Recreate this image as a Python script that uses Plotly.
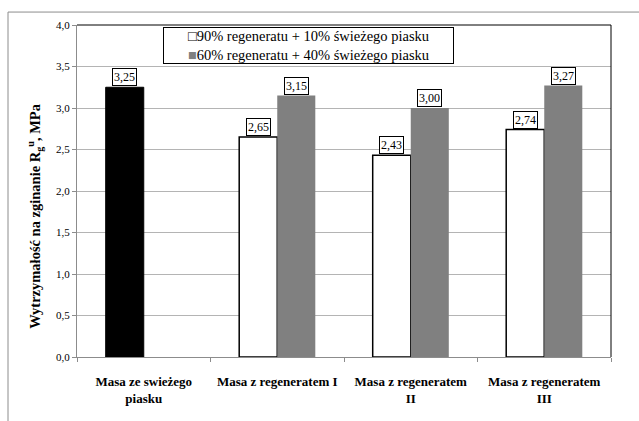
import plotly.graph_objects as go

# Categories (x-axis) and measured flexural strength values [MPa]
categories = [
    "Masa ze swieżego<br>piasku",
    "Masa z regeneratem I",
    "Masa z regeneratem<br>II",
    "Masa z regeneratem<br>III",
]
fresh_cat = [categories[0]]
fresh_vals = [3.25]

regen_cats = categories[1:]
series_90 = [2.65, 2.43, 2.74]   # 90% regenerate + 10% fresh sand
series_60 = [3.15, 3.00, 3.27]   # 60% regenerate + 40% fresh sand

name_90 = "90% regeneratu + 10% świeżego piasku"
name_60 = "60% regeneratu + 40% świeżego piasku"

y_ticks = [0, 0.5, 1.0, 1.5, 2.0, 2.5, 3.0, 3.5, 4.0]

SERIF = "Liberation Serif"
GRID = "#b4b4b4"
AXIS = "#8c8c8c"
GRAY_BAR = "#808080"

fig = go.Figure()

fig.add_trace(go.Bar(
    x=fresh_cat, y=fresh_vals, offsetgroup="a", showlegend=False,
    marker=dict(color="black", line=dict(color="black", width=1)),
))
fig.add_trace(go.Bar(
    x=regen_cats, y=series_90, name=name_90, offsetgroup="a", showlegend=False,
    marker=dict(color="white", line=dict(color="black", width=1.5)),
))
fig.add_trace(go.Bar(
    x=regen_cats, y=series_60, name=name_60, offsetgroup="b", showlegend=False,
    marker=dict(color=GRAY_BAR, line=dict(color=GRAY_BAR, width=0)),
))

# Boxed value labels above each bar
def value_label(x, v, shift):
    return dict(
        x=x, y=v, xref="x", yref="y", xshift=shift, yshift=1,
        text=f"{v:.2f}".replace(".", ","), showarrow=False,
        xanchor="center", yanchor="bottom",
        font=dict(family=SERIF, size=12, color="black"),
        bgcolor="white", bordercolor="black", borderwidth=1, borderpad=1,
    )

annotations = [value_label(fresh_cat[0], fresh_vals[0], -19)]
for c, v in zip(regen_cats, series_90):
    annotations.append(value_label(c, v, -19))
for c, v in zip(regen_cats, series_60):
    annotations.append(value_label(c, v, 19))

# Legend box with square markers for both series
legend_text = (
    "<span style='color:black'>□</span>" + name_90 + "<br>"
    + f"<span style='color:{GRAY_BAR}'>■</span>" + name_60
)
annotations.append(dict(
    x=0.4335, y=0.938, xref="paper", yref="paper",
    text=legend_text, showarrow=False, xanchor="center", yanchor="middle",
    align="center", width=289, height=35,
    font=dict(family=SERIF, size=14.5, color="black"),
    bgcolor="white", bordercolor="black", borderwidth=1, borderpad=0,
))

# Rotated y-axis title
annotations.append(dict(
    x=-0.0787, y=0.425, xref="paper", yref="paper",
    text="Wytrzymałość na zginanie R<sub>g</sub><sup>u</sup>, MPa",
    textangle=-90, showarrow=False, xanchor="center", yanchor="middle",
    font=dict(family=SERIF, size=14.5, color="black", weight="bold"),
))

shapes = [
    # plot frame: top and right edges
    dict(type="line", xref="paper", yref="paper", x0=0, x1=1, y0=1, y1=1,
         line=dict(color="black", width=1)),
    dict(type="line", xref="paper", yref="paper", x0=1, x1=1, y0=0, y1=1,
         line=dict(color="black", width=1)),
    # outer chart border (top and left)
    dict(type="line", xref="paper", yref="paper", x0=-0.1292, x1=1.06, y0=1.039, y1=1.039,
         line=dict(color="#8c8c8c", width=1)),
    dict(type="line", xref="paper", yref="paper", x0=-0.1292, x1=-0.1292, y0=-0.2, y1=1.039,
         line=dict(color="#8c8c8c", width=1)),
]

fig.update_layout(
    width=639, height=421,
    margin=dict(l=77, r=28, t=25, b=64),
    paper_bgcolor="white", plot_bgcolor="white",
    separators=", ",
    barmode="group", bargap=0.43, bargroupgap=0,
    font=dict(family=SERIF, color="black"),
    annotations=annotations,
    shapes=shapes,
    showlegend=False,
    xaxis=dict(
        type="category", categoryorder="array", categoryarray=categories,
        showline=True, linecolor=AXIS, linewidth=1,
        ticks="outside", tickson="boundaries", ticklen=4, tickcolor=AXIS,
        ticklabelstandoff=12, tickangle=0, automargin=False,
        tickfont=dict(family=SERIF, size=13, color="black", weight="bold"),
        showgrid=False,
    ),
    yaxis=dict(
        range=[0, 4], tickvals=y_ticks, tickformat=".1f",
        showline=True, linecolor=AXIS, linewidth=1,
        ticks="outside", ticklen=4, tickcolor=AXIS, automargin=False,
        tickfont=dict(family=SERIF, size=11, color="black"),
        showgrid=True, gridcolor=GRID, gridwidth=1, zeroline=False,
    ),
)

fig.write_html("out.html")
